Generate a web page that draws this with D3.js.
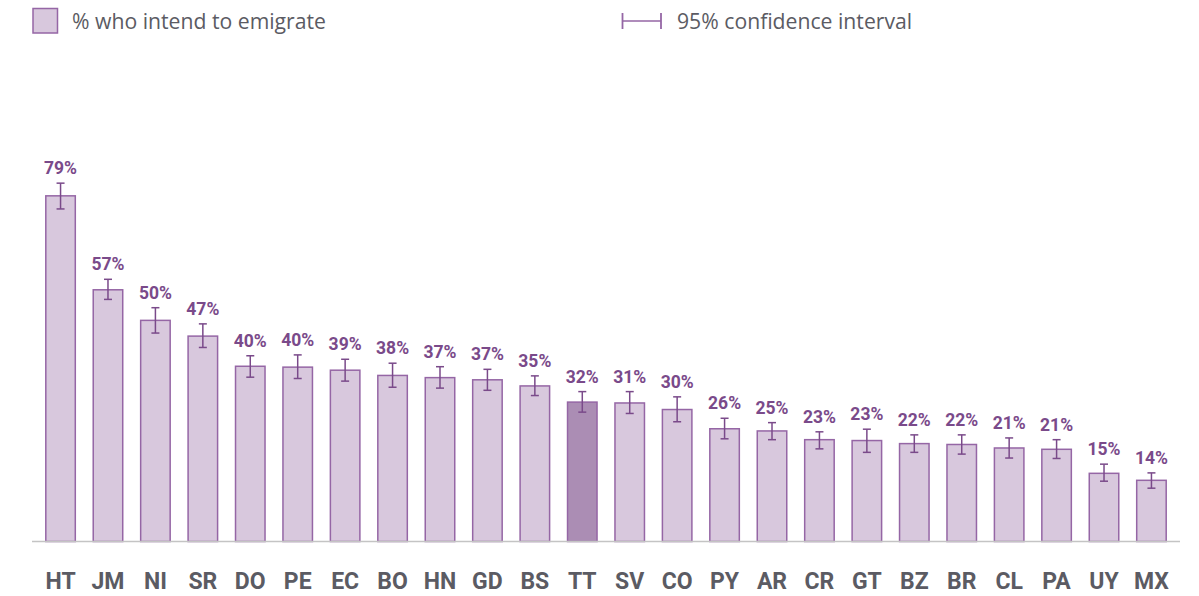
<!DOCTYPE html>
<html>
<head>
<meta charset="utf-8">
<script src="https://cdn.jsdelivr.net/npm/d3@7"></script>
<style>
  html, body { margin: 0; padding: 0; background: #ffffff; }
  svg { display: block; }
</style>
</head>
<body>
<svg id="chart" width="1199" height="596"></svg>
<script>
// ---- data ----
const countries = ["HT","JM","NI","SR","DO","PE","EC","BO","HN","GD","BS","TT","SV","CO","PY","AR","CR","GT","BZ","BR","CL","PA","UY","MX"];
const values    = [79.1, 57.6, 50.6, 47.0, 40.1, 39.9, 39.2, 38.0, 37.5, 37.0, 35.6, 31.9, 31.7, 30.2, 25.8, 25.3, 23.3, 23.1, 22.4, 22.2, 21.4, 21.1, 15.6, 14.0];
const ciLow     = [76.1, 55.4, 47.7, 44.4, 37.6, 37.3, 36.7, 35.3, 35.1, 34.6, 33.4, 29.6, 29.3, 27.4, 23.5, 23.3, 21.2, 20.4, 20.4, 20.0, 19.1, 19.0, 13.8, 12.2];
const ciHigh    = [82.0, 60.0, 53.5, 49.8, 42.5, 42.7, 41.7, 40.8, 40.0, 39.4, 37.9, 34.3, 34.3, 33.1, 28.2, 27.2, 25.1, 25.7, 24.4, 24.4, 23.7, 23.3, 17.7, 15.7];
const valueLabels = ["79%","57%","50%","47%","40%","40%","39%","38%","37%","37%","35%","32%","31%","30%","26%","25%","23%","23%","22%","22%","21%","21%","15%","14%"];
const highlight = "TT";
const legendLabels = ["% who intend to emigrate", "95% confidence interval"];

const rows = countries.map((c, i) => ({c, v: values[i], lo: ciLow[i], hi: ciHigh[i], label: valueLabels[i]}));

// ---- layout ----
const svg = d3.select("#chart");
const x = d3.scaleBand().domain(countries).range([32, 1180]).paddingInner(0.378).paddingOuter(0.291);
const y = d3.scaleLinear().domain([0, 100]).range([541.5, 104.5]);

const barFill = "#d8c8dd", barStroke = "#9566a5", hiFill = "#ab8db4";
const purple = "#7a4a8a", gray = "#5b5b63";

// bars
svg.append("g").selectAll("rect").data(rows).join("rect")
  .attr("x", d => x(d.c))
  .attr("y", d => y(d.v))
  .attr("width", x.bandwidth())
  .attr("height", d => y(0) - y(d.v))
  .attr("fill", d => d.c === highlight ? hiFill : barFill)
  .attr("stroke", barStroke)
  .attr("stroke-width", 1.5);

// baseline
svg.append("line")
  .attr("x1", 32).attr("x2", 1180)
  .attr("y1", y(0)).attr("y2", y(0))
  .attr("stroke", "#c4c4c4").attr("stroke-width", 1.3);

// error bars
const eb = svg.append("g").attr("stroke", purple).attr("stroke-width", 1.5).attr("fill", "none");
rows.forEach(d => {
  const cx = x(d.c) + x.bandwidth() / 2;
  eb.append("line").attr("x1", cx).attr("x2", cx).attr("y1", y(d.hi)).attr("y2", y(d.lo));
  eb.append("line").attr("x1", cx - 4).attr("x2", cx + 4).attr("y1", y(d.hi)).attr("y2", y(d.hi));
  eb.append("line").attr("x1", cx - 4).attr("x2", cx + 4).attr("y1", y(d.lo)).attr("y2", y(d.lo));
});

// value labels
svg.append("g").selectAll("text").data(rows).join("text")
  .attr("x", d => x(d.c) + x.bandwidth() / 2)
  .attr("y", d => y(d.hi) - 9)
  .attr("text-anchor", "middle")
  .attr("font-family", "Roboto, sans-serif")
  .attr("font-weight", 700)
  .attr("font-size", "17.5px")
  .attr("fill", purple)
  .text(d => d.label);

// x axis labels
const xAxis = d3.axisBottom(x).tickSize(0).tickPadding(0);
const gx = svg.append("g").attr("transform", `translate(0, ${y(0)})`).call(xAxis);
gx.select(".domain").remove();
gx.selectAll("text")
  .attr("y", 47.5)
  .attr("dy", 0)
  .attr("font-family", "Roboto, sans-serif")
  .attr("font-weight", 700)
  .attr("font-size", "23px")
  .attr("fill", gray);

// legend
const lg = svg.append("g");
lg.append("rect").attr("x", 33).attr("y", 8.5).attr("width", 24.5).attr("height", 24.5)
  .attr("fill", barFill).attr("stroke", barStroke).attr("stroke-width", 1.5);
lg.append("text").attr("x", 72).attr("y", 28.5)
  .attr("font-family", "'Open Sans', sans-serif").attr("font-size", "21.2px").attr("fill", gray)
  .text(legendLabels[0]);
const ci = lg.append("g").attr("stroke", "#9566a5").attr("stroke-width", 1.8);
ci.append("line").attr("x1", 622.5).attr("x2", 622.5).attr("y1", 13).attr("y2", 29);
ci.append("line").attr("x1", 661).attr("x2", 661).attr("y1", 13).attr("y2", 29);
ci.append("line").attr("x1", 622.5).attr("x2", 661).attr("y1", 21).attr("y2", 21).attr("stroke-width", 1.3);
lg.append("text").attr("x", 677).attr("y", 28.5)
  .attr("font-family", "'Open Sans', sans-serif").attr("font-size", "21.2px").attr("fill", gray)
  .text(legendLabels[1]);
</script>
</body>
</html>
